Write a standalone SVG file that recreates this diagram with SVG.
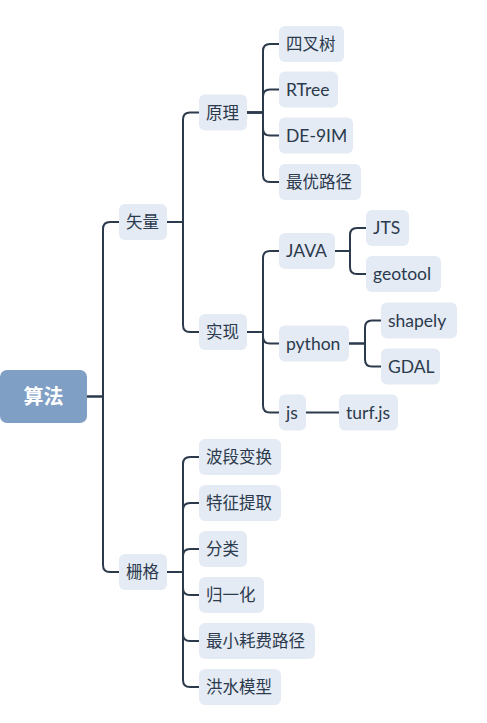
<svg xmlns="http://www.w3.org/2000/svg" width="487" height="723" viewBox="0 0 487 723">
<style>
.n rect{fill:#e4ebf4}
.n text{font-family:Lato,"Noto Sans CJK SC",sans-serif;font-size:16.5px;fill:#2c3a4d}
.n text.l{font-size:17.5px}
.c path{fill:none;stroke:#2c3a4d;stroke-width:2}
</style>
<rect width="487" height="723" fill="#ffffff"/>
<g class="c" id="connectors">
<path d="M87,396.5 H103 V229 Q103,222 110,222 H119"/>
<path d="M87,396.5 H103 V565 Q103,572 110,572 H119"/>
<path d="M167,222 H183 V119.5 Q183,112.5 190,112.5 H199"/>
<path d="M167,222 H183 V325 Q183,332 190,332 H199"/>
<path d="M247,112.5 H263 V51 Q263,44 270,44 H279"/>
<path d="M247,112.5 H263 V96.5 Q263,89.5 270,89.5 H279"/>
<path d="M247,112.5 H263 V128.5 Q263,135.5 270,135.5 H279"/>
<path d="M247,112.5 H263 V175 Q263,182 270,182 H279"/>
<path d="M247,332 H263 V258 Q263,251 270,251 H279"/>
<path d="M247,332 H263 V336.5 Q263,343.5 270,343.5 H279"/>
<path d="M247,332 H263 V405.5 Q263,412.5 270,412.5 H279"/>
<path d="M335,251 H350 V235 Q350,228 357,228 H366"/>
<path d="M335,251 H350 V267 Q350,274 357,274 H366"/>
<path d="M349,343.5 H365 V327.5 Q365,320.5 372,320.5 H381"/>
<path d="M349,343.5 H365 V359.5 Q365,366.5 372,366.5 H381"/>
<path d="M306,412.5 H339"/>
<path d="M167,572 H183 V464 Q183,457 190,457 H199"/>
<path d="M167,572 H183 V510 Q183,503 190,503 H199"/>
<path d="M167,572 H183 V556 Q183,549 190,549 H199"/>
<path d="M167,572 H183 V588 Q183,595 190,595 H199"/>
<path d="M167,572 H183 V634 Q183,641 190,641 H199"/>
<path d="M167,572 H183 V680 Q183,687 190,687 H199"/>
</g>
<g id="root">
<rect x="0" y="370" width="87" height="53" rx="7" fill="#809fc5"/>
<text x="43.5" y="403.5" text-anchor="middle" font-family="Lato,'Noto Sans CJK SC',sans-serif" font-size="20" font-weight="bold" fill="#ffffff">算法</text>
</g>
<g class="n" id="n-shiliang"><rect x="119" y="204" width="48" height="36" rx="6"/><text x="126" y="228">矢量</text></g>
<g class="n" id="n-shange"><rect x="119" y="554" width="48" height="36" rx="6"/><text x="126" y="578">栅格</text></g>
<g class="n" id="n-yuanli"><rect x="199" y="94.5" width="48" height="36" rx="6"/><text x="206" y="118.5">原理</text></g>
<g class="n" id="n-shixian"><rect x="199" y="314" width="48" height="36" rx="6"/><text x="206" y="338">实现</text></g>
<g class="n" id="n-sichashu"><rect x="279" y="26" width="65" height="36" rx="6"/><text x="286" y="50">四叉树</text></g>
<g class="n" id="n-rtree"><rect x="279" y="71.5" width="59" height="36" rx="6"/><text class="l" x="286" y="95.5">RTree</text></g>
<g class="n" id="n-de9im"><rect x="279" y="117.5" width="74" height="36" rx="6"/><text class="l" x="286" y="141.5">DE-9IM</text></g>
<g class="n" id="n-zuiyou"><rect x="279" y="164" width="82" height="36" rx="6"/><text x="286" y="188">最优路径</text></g>
<g class="n" id="n-java"><rect x="279" y="233" width="56" height="36" rx="6"/><text class="l" x="286" y="257">JAVA</text></g>
<g class="n" id="n-python"><rect x="279" y="325.5" width="70" height="36" rx="6"/><text class="l" x="286" y="349.5">python</text></g>
<g class="n" id="n-js"><rect x="279" y="394.5" width="27" height="36" rx="6"/><text class="l" x="286" y="418.5">js</text></g>
<g class="n" id="n-jts"><rect x="366" y="210" width="43" height="36" rx="6"/><text class="l" x="373" y="234">JTS</text></g>
<g class="n" id="n-geotool"><rect x="366" y="256" width="75" height="36" rx="6"/><text class="l" x="373" y="280">geotool</text></g>
<g class="n" id="n-shapely"><rect x="381" y="302.5" width="76" height="36" rx="6"/><text class="l" x="388" y="326.5">shapely</text></g>
<g class="n" id="n-gdal"><rect x="381" y="348.5" width="59" height="36" rx="6"/><text class="l" x="388" y="372.5">GDAL</text></g>
<g class="n" id="n-turf"><rect x="339" y="394.5" width="59" height="36" rx="6"/><text class="l" x="346" y="418.5">turf.js</text></g>
<g class="n" id="n-boduan"><rect x="199" y="439" width="82" height="36" rx="6"/><text x="206" y="463">波段变换</text></g>
<g class="n" id="n-tezheng"><rect x="199" y="485" width="82" height="36" rx="6"/><text x="206" y="509">特征提取</text></g>
<g class="n" id="n-fenlei"><rect x="199" y="531" width="48" height="36" rx="6"/><text x="206" y="555">分类</text></g>
<g class="n" id="n-guiyi"><rect x="199" y="577" width="65" height="36" rx="6"/><text x="206" y="601">归一化</text></g>
<g class="n" id="n-zuixiao"><rect x="199" y="623" width="116" height="36" rx="6"/><text x="206" y="647">最小耗费路径</text></g>
<g class="n" id="n-hongshui"><rect x="199" y="669" width="82" height="36" rx="6"/><text x="206" y="693">洪水模型</text></g>
</svg>
